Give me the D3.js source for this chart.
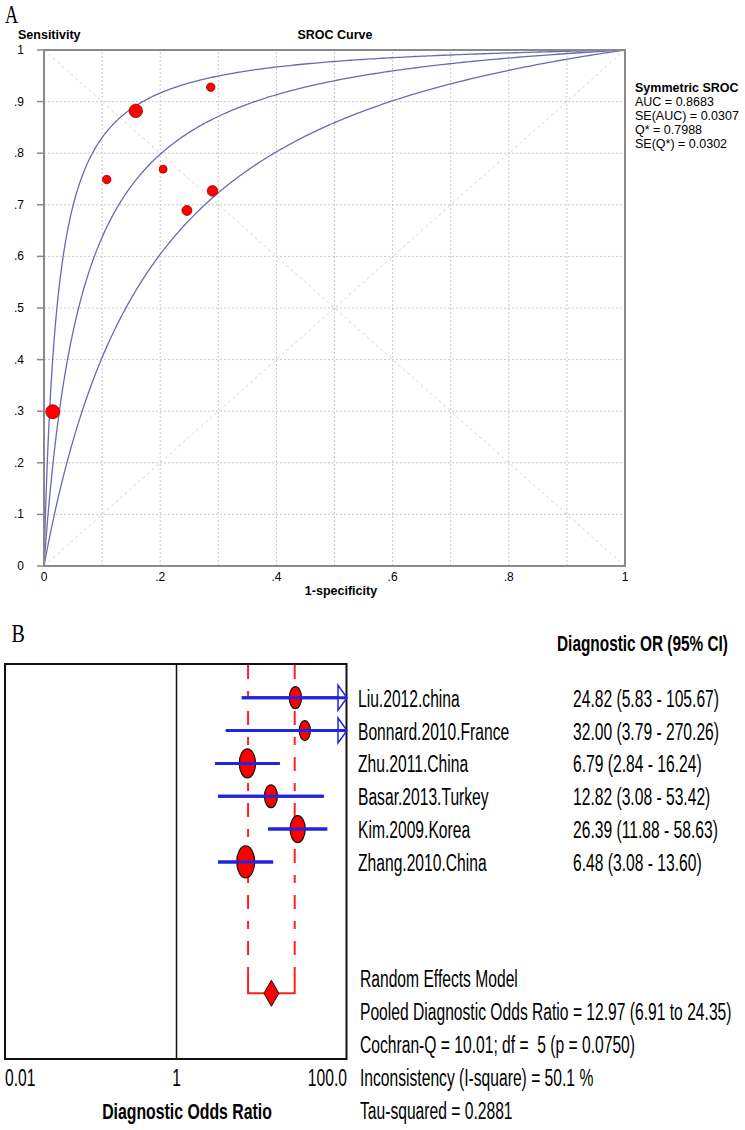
<!DOCTYPE html>
<html>
<head>
<meta charset="utf-8">
<script src="https://cdn.jsdelivr.net/npm/d3@7/dist/d3.min.js"></script>
<style>
body{margin:0;background:#fff;}
svg{display:block;}
</style>
</head>
<body>
<script>
// ---- panel A : SROC
var fprVals = [0.158, 0.287, 0.108, 0.205, 0.290, 0.246, 0.015];
var sensVals = [0.882, 0.928, 0.749, 0.769, 0.727, 0.689, 0.299];
var pointWeights = [45, 18, 18, 16, 28, 25, 49];
var srocDor = [44, 15.8, 6.1];
var yTickVals = [0, .1, .2, .3, .4, .5, .6, .7, .8, .9, 1];
var xTickVals = [0, .2, .4, .6, .8, 1];
var gridVals = [.1, .2, .3, .4, .5, .6, .7, .8, .9];
var legendLines = ["Symmetric SROC", "AUC = 0.8683", "SE(AUC) = 0.0307", "Q* = 0.7988", "SE(Q*) = 0.0302"];

// ---- panel B : forest plot
var studies = ["Liu.2012.china", "Bonnard.2010.France", "Zhu.2011.China", "Basar.2013.Turkey", "Kim.2009.Korea", "Zhang.2010.China"];
var orVals = [24.82, 32.00, 6.79, 12.82, 26.39, 6.48];
var ciLow = [5.83, 3.79, 2.84, 3.08, 11.88, 3.08];
var ciHigh = [105.67, 270.26, 16.24, 53.42, 58.63, 13.60];
var studyWeights = [12.0, 9.9, 20.9, 13.1, 18.1, 25.4];
var pooledOr = [12.97, 6.91, 24.35];
var summaryLines = ["Random Effects Model", "Pooled Diagnostic Odds Ratio = 12.97 (6.91 to 24.35)",
	"Cochran-Q = 10.01; df =  5 (p = 0.0750)", "Inconsistency (I-square) = 50.1 %", "Tau-squared = 0.2881"];
var orTicks = [0.01, 1, 100];
var orTickLabels = ["0.01", "1", "100.0"];

var svg = d3.select("body").append("svg")
	.attr("width", 745).attr("height", 1130);

var sans = "'Liberation Sans', Arial, sans-serif";
var serif = "'Liberation Serif', 'Times New Roman', serif";

function ctext(g, x, y, str, size, sx) {
	return g.append("text")
		.attr("transform", "translate(" + x + "," + y + ") scale(" + sx + ",1)")
		.attr("font-family", sans)
		.attr("font-size", size)
		.text(str);
}

/* ================= A ================= */
var gA = svg.append("g");
var xA = d3.scaleLinear().domain([0, 1]).range([44, 625]);
var yA = d3.scaleLinear().domain([0, 1]).range([566, 50]);

ctext(gA, 5, 23, "A", 26, 0.7).attr("font-family", serif);

gA.selectAll(".gx").data(gridVals).enter().append("line")
	.attr("x1", function(d){return xA(d);}).attr("x2", function(d){return xA(d);})
	.attr("y1", yA(0)).attr("y2", yA(1))
	.attr("stroke", "#c8c8c8").attr("stroke-dasharray", "2,2");
gA.selectAll(".gy").data(gridVals).enter().append("line")
	.attr("y1", function(d){return yA(d);}).attr("y2", function(d){return yA(d);})
	.attr("x1", xA(0)).attr("x2", xA(1))
	.attr("stroke", "#c8c8c8").attr("stroke-dasharray", "2,2");

gA.append("line").attr("x1", xA(0)).attr("y1", yA(1)).attr("x2", xA(1)).attr("y2", yA(0))
	.attr("stroke", "#d4d4d4").attr("stroke-dasharray", "3,3");
gA.append("line").attr("x1", xA(0)).attr("y1", yA(0)).attr("x2", xA(1)).attr("y2", yA(1))
	.attr("stroke", "#d4d4d4").attr("stroke-dasharray", "3,3");

var fprGrid = d3.range(0, 301).map(function(i){ return Math.pow(i / 300, 2); });
var line = d3.line()
	.x(function(d){return xA(d[0]);})
	.y(function(d){return yA(d[1]);});
srocDor.forEach(function(dor){
	var pts = fprGrid.map(function(f){ return [f, dor * f / (1 - f + dor * f)]; });
	gA.append("path").attr("d", line(pts))
		.attr("fill", "none").attr("stroke", "#6a6ab4").attr("stroke-width", 1.3);
});

// frame
gA.append("rect").attr("x", xA(0)).attr("y", yA(1))
	.attr("width", xA(1) - xA(0)).attr("height", yA(0) - yA(1))
	.attr("fill", "none").attr("stroke", "#8a8a8a").attr("stroke-width", 2);

gA.selectAll(".yt").data(yTickVals).enter().append("line")
	.attr("x1", 37).attr("x2", 44)
	.attr("y1", function(d){return yA(d);}).attr("y2", function(d){return yA(d);})
	.attr("stroke", "#8a8a8a").attr("stroke-width", 1.5);

function fmtTick(d) {
	if (d === 0) return "0";
	if (d === 1) return "1";
	return d3.format(".1f")(d).replace(/^0/, "");
}
gA.selectAll(".yl").data(yTickVals).enter().append("text")
	.attr("x", 24).attr("y", function(d){return yA(d) + 4;})
	.attr("text-anchor", "end").attr("font-family", sans).attr("font-size", 12)
	.text(fmtTick);
gA.selectAll(".xl").data(xTickVals).enter().append("text")
	.attr("x", function(d){return xA(d);}).attr("y", 581)
	.attr("text-anchor", "middle").attr("font-family", sans).attr("font-size", 12)
	.text(fmtTick);

gA.append("text").attr("x", 18).attr("y", 39).attr("font-family", sans)
	.attr("font-size", 12.5).attr("font-weight", "bold").text("Sensitivity");
gA.append("text").attr("x", 335).attr("y", 39).attr("text-anchor", "middle").attr("font-family", sans)
	.attr("font-size", 12.5).attr("font-weight", "bold").text("SROC Curve");
gA.append("text").attr("x", 341).attr("y", 595).attr("text-anchor", "middle").attr("font-family", sans)
	.attr("font-size", 12.5).attr("font-weight", "bold").text("1-specificity");

gA.selectAll(".lg").data(legendLines).enter().append("text")
	.attr("x", 635).attr("y", function(d, i){return 92 + i * 14;})
	.attr("font-family", sans).attr("font-size", 12.5)
	.attr("font-weight", function(d, i){return i === 0 ? "bold" : "normal";})
	.text(function(d){return d;});

var rA = d3.scaleSqrt().domain([0, 49]).range([0, 7]);
gA.selectAll(".pt").data(fprVals).enter().append("circle")
	.attr("cx", function(d){return xA(d);})
	.attr("cy", function(d, i){return yA(sensVals[i]);})
	.attr("r", function(d, i){return rA(pointWeights[i]);})
	.attr("fill", "#ff0000").attr("stroke", "#a00000").attr("stroke-width", 0.8);

/* ================= B ================= */
var gB = svg.append("g");
var xB = d3.scaleLog().domain([0.01, 100]).range([6, 347]);
var yB = d3.scaleLinear().domain([0, 9]).range([697.7, 993.3]);
var boxL = 5, boxR = 346.5, boxT = 664, boxB = 1059;

ctext(gB, 11.5, 641.5, "B", 25, 0.8).attr("font-family", serif);

gB.append("rect").attr("x", boxL).attr("y", boxT)
	.attr("width", boxR - boxL).attr("height", boxB - boxT)
	.attr("fill", "none").attr("stroke", "#111").attr("stroke-width", 2);
gB.append("line").attr("x1", xB(1)).attr("x2", xB(1)).attr("y1", boxT).attr("y2", boxB)
	.attr("stroke", "#111").attr("stroke-width", 1.5);

// pooled CI dashed lines and bracket
var bracketTop = yB(9) - 21;
[pooledOr[1], pooledOr[2]].forEach(function(v){
	gB.append("line").attr("x1", xB(v)).attr("x2", xB(v)).attr("y1", boxT + 1).attr("y2", bracketTop)
		.attr("stroke", "#ff2020").attr("stroke-width", 2).attr("stroke-dasharray", "14,12,8,12");
});
gB.append("path")
	.attr("d", "M" + xB(pooledOr[1]) + "," + bracketTop + "V" + yB(9) + "H" + xB(pooledOr[2]) + "V" + bracketTop)
	.attr("fill", "none").attr("stroke", "#ff2020").attr("stroke-width", 2);

// CI lines
gB.selectAll(".ci").data(orVals).enter().append("line")
	.attr("x1", function(d, i){return xB(ciLow[i]);})
	.attr("x2", function(d, i){return xB(Math.min(ciHigh[i], 100));})
	.attr("y1", function(d, i){return yB(i);}).attr("y2", function(d, i){return yB(i);})
	.attr("stroke", "#2424e0").attr("stroke-width", 3);
gB.selectAll(".arr").data(orVals.filter(function(d, i){return ciHigh[i] > 100;})).enter().append("path")
	.attr("d", function(d, i){
		var y = yB(orVals.indexOf(d));
		var xe = xB(100);
		return "M" + (xe - 9) + "," + (y - 12.5) + "L" + xe + "," + y + "L" + (xe - 9) + "," + (y + 12.5) + "Z";
	})
	.attr("fill", "#fff").attr("stroke", "#2424e0").attr("stroke-width", 1.5);

var ryScale = d3.scaleSqrt().domain([0, 25.4]).range([0, 16]);
gB.selectAll(".mk").data(orVals).enter().append("ellipse")
	.attr("cx", function(d){return xB(d);})
	.attr("cy", function(d, i){return yB(i);})
	.attr("ry", function(d, i){return ryScale(studyWeights[i]);})
	.attr("rx", function(d, i){return ryScale(studyWeights[i]) * 0.56;})
	.attr("fill", "#ff0000").attr("stroke", "#111").attr("stroke-width", 1.2);
// redraw CI over markers (as in reference)
gB.selectAll(".ci2").data(orVals).enter().append("line")
	.attr("x1", function(d, i){return xB(ciLow[i]);})
	.attr("x2", function(d, i){return xB(Math.min(ciHigh[i], 100));})
	.attr("y1", function(d, i){return yB(i);}).attr("y2", function(d, i){return yB(i);})
	.attr("stroke", "#2424e0").attr("stroke-width", 3);

// pooled diamond
var px = xB(pooledOr[0]), py = yB(9);
gB.append("path")
	.attr("d", "M" + px + "," + (py - 13) + "L" + (px + 7.5) + "," + py + "L" + px + "," + (py + 13) + "L" + (px - 7.5) + "," + py + "Z")
	.attr("fill", "#ff0000").attr("stroke", "#111").attr("stroke-width", 1);

// right-hand text
ctext(gB, 557, 651, "Diagnostic OR (95% CI)", 22, 0.7).attr("font-weight", "bold");
studies.forEach(function(s, i){
	var y = yB(i) + 9;
	ctext(gB, 358, y, s, 23, 0.68);
	ctext(gB, 573, y, orVals[i].toFixed(2) + " (" + ciLow[i].toFixed(2) + " - " + ciHigh[i].toFixed(2) + ")", 23, 0.68);
});
summaryLines.forEach(function(s, i){
	ctext(gB, 360, 987 + i * 33, s, 23, 0.68).attr("xml:space", "preserve");
});

// axis labels
orTicks.forEach(function(v, i){
	var t = ctext(gB, i === 0 ? 5 : (i === 2 ? 347 : xB(v)), 1086, orTickLabels[i], 23, 0.68);
	t.attr("text-anchor", i === 0 ? "start" : (i === 2 ? "end" : "middle"));
});
ctext(gB, 187, 1119, "Diagnostic Odds Ratio", 22, 0.72)
	.attr("font-weight", "bold").attr("text-anchor", "middle");
</script>
</body>
</html>
